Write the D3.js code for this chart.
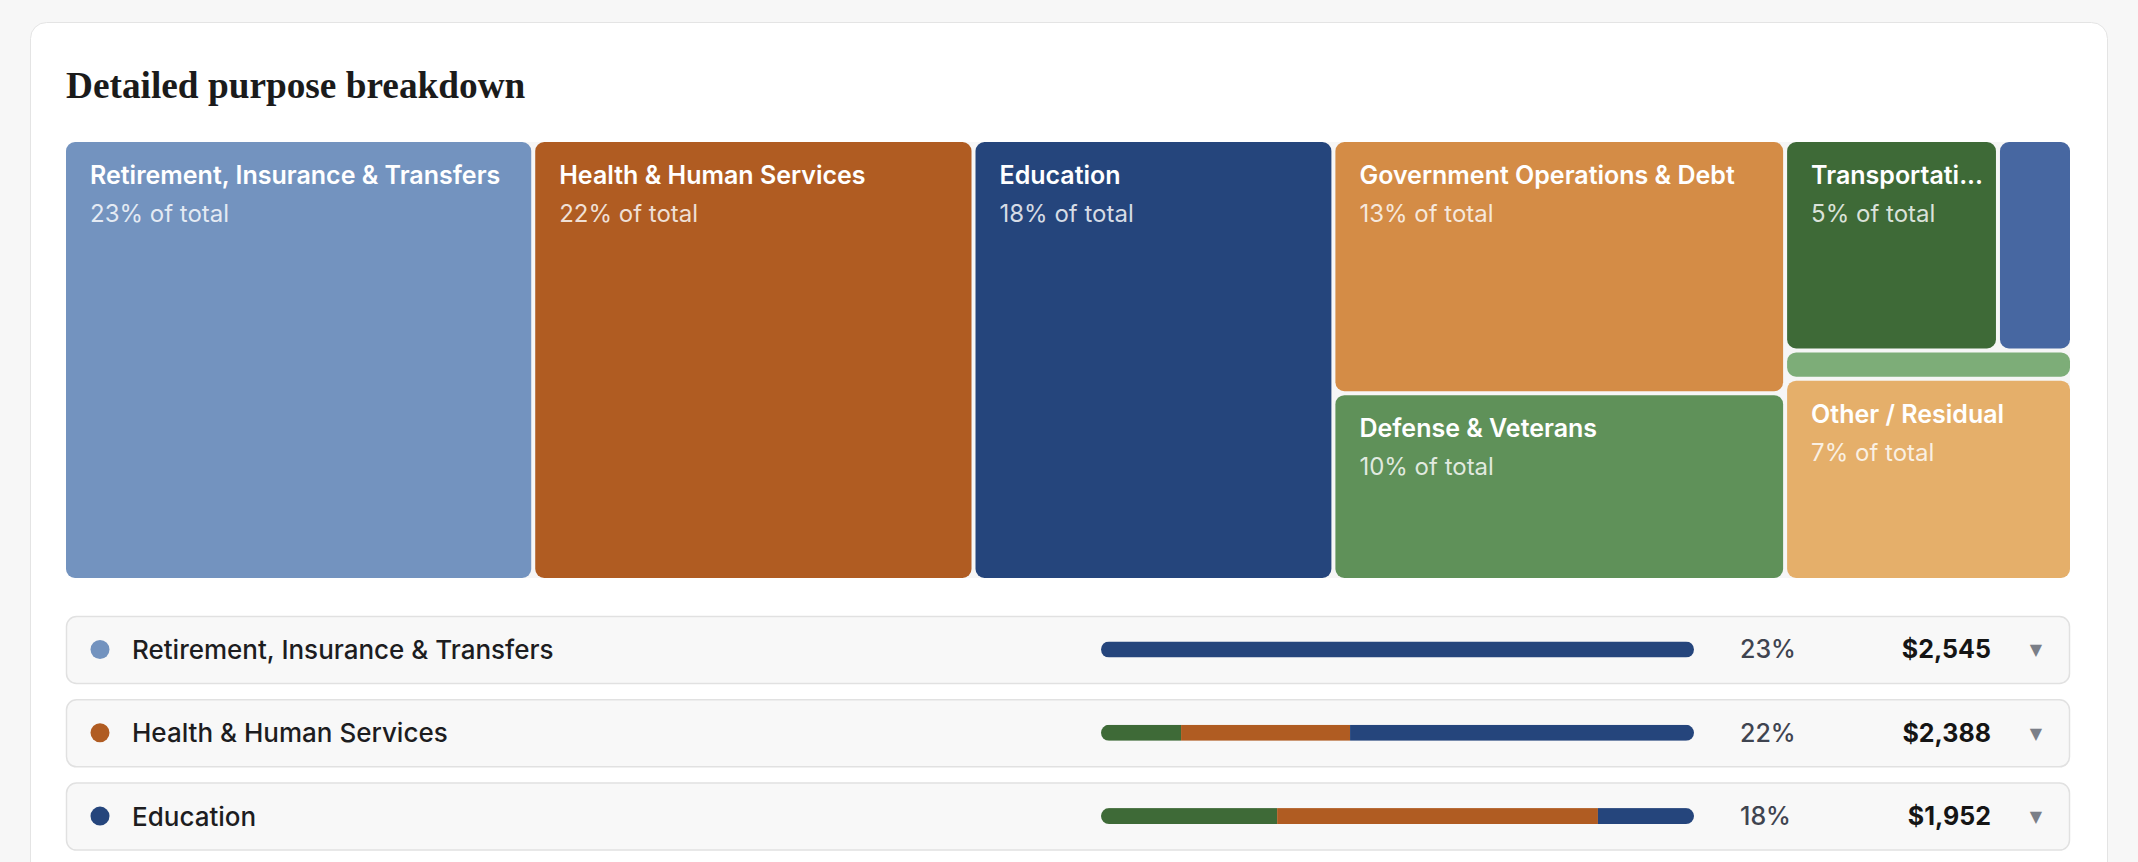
<!DOCTYPE html>
<html>
<head>
<meta charset="utf-8">
<script src="https://cdn.jsdelivr.net/npm/d3@7"></script>
<style>
  body { margin: 0; background: #f7f7f7; }
  svg { display: block; }
</style>
</head>
<body>
<div id="chart"></div>
<script>
// Purpose categories, in the order they are tiled ("Other" kept last)
const categories = ["Retirement, Insurance & Transfers", "Health & Human Services", "Education",
    "Government Operations & Debt", "Defense & Veterans", "Transportation", "Public Safety",
    "Parks & Environment", "Other / Residual"];
const amounts = [2545, 2388, 1952, 1410, 1040, 552, 192, 100, 712];
const colors = ["#7393bf", "#b05c22", "#25457c", "#d48c46", "#5f9159", "#3e6a37", "#4767a1", "#7dad78", "#e5af6a"];

// Rows under the treemap: split of each purpose by source
const sourceKeys = ["Local", "State", "Federal"];
const sourceColors = ["#3e6a37", "#b05c22", "#25457c"];
const rowShares = [
    [0, 0, 1],
    [0.135, 0.285, 0.58],
    [0.297, 0.541, 0.162]
];

const width = 2138, height = 862;
const total = d3.sum(amounts);
const pct = v => Math.round(v / total * 100) + "%";
const sans = "Inter, 'Noto Sans', sans-serif";

const svg = d3.select("#chart").append("svg")
    .attr("width", width)
    .attr("height", height);

// White card
svg.append("rect")
    .attr("x", 30.5).attr("y", 22.5)
    .attr("width", 2077).attr("height", 900)
    .attr("rx", 16)
    .attr("fill", "#fff")
    .attr("stroke", "#e4e4e4");

// Title
svg.append("text")
    .attr("x", 66)
    .attr("y", 98)
    .style("font-family", "'Liberation Serif', serif")
    .style("font-weight", "bold")
    .style("font-size", "37.3px")
    .attr("fill", "#1b1b1b")
    .text("Detailed purpose breakdown");

// ---- Treemap ----
const tm = { x: 66, y: 142, w: 2004, h: 436 };

const root = d3.hierarchy({ children: categories.map((c, i) => ({ name: c, value: amounts[i], color: colors[i] })) })
    .sum(d => d.value);

d3.treemap()
    .size([tm.w, tm.h])
    .paddingInner(4)(root);

const tmG = svg.append("g").attr("transform", "translate(" + tm.x + "," + tm.y + ")");

tmG.append("rect")
    .attr("width", tm.w).attr("height", tm.h)
    .attr("rx", 10)
    .attr("fill", "#f6f6f6");

const tile = tmG.selectAll(".tile")
    .data(root.leaves())
    .enter().append("g")
    .attr("class", "tile")
    .attr("transform", d => "translate(" + d.x0 + "," + d.y0 + ")");

tile.append("rect")
    .attr("width", d => d.x1 - d.x0)
    .attr("height", d => d.y1 - d.y0)
    .attr("rx", 9)
    .attr("fill", d => d.data.color);

// Only label tiles that are big enough
const labelled = tile.filter(d => (d.x1 - d.x0) > 120 && (d.y1 - d.y0) > 90);

labelled.append("text")
    .attr("x", 24).attr("y", 42)
    .style("font-family", sans)
    .style("font-weight", 600)
    .style("font-size", "25px")
    .attr("fill", "#fff")
    .text(d => d.data.name)
    .each(function (d) {
        // Trim long names with an ellipsis
        const maxW = (d.x1 - d.x0) - 24 - 8;
        const el = d3.select(this);
        let s = d.data.name;
        if (this.getComputedTextLength() <= maxW) return;
        while (s.length > 1) {
            s = s.slice(0, -1);
            el.text(s + "...");
            if (this.getComputedTextLength() <= maxW) break;
        }
    });

labelled.append("text")
    .attr("x", 24).attr("y", 80)
    .style("font-family", sans)
    .style("font-size", "24px")
    .attr("fill", "rgba(255,255,255,0.82)")
    .text(d => pct(d.data.value) + " of total");

// ---- Breakdown rows ----
const rows = rowShares.map((s, i) => {
    const o = { name: categories[i], value: amounts[i], color: colors[i] };
    sourceKeys.forEach((k, j) => o[k] = s[j]);
    return o;
});

const y = d3.scaleBand()
    .domain(d3.range(rows.length))
    .range([616, 849.6])
    .paddingInner(0.196);

const bx = d3.scaleLinear().domain([0, 1]).range([1101, 1694]);
const barH = 16;

const stacked = d3.stack().keys(sourceKeys)(rows);

const defs = svg.append("defs");

const row = svg.selectAll(".row")
    .data(rows)
    .enter().append("g")
    .attr("class", "row")
    .attr("transform", (d, i) => "translate(0," + y(i) + ")");

row.append("rect")
    .attr("x", 66.5).attr("y", 0.5)
    .attr("width", 2003).attr("height", y.bandwidth())
    .attr("rx", 10)
    .attr("fill", "#f8f8f8")
    .attr("stroke", "#e1e1e1")
    .attr("stroke-width", 1.5);

const mid = y.bandwidth() / 2;

row.append("circle")
    .attr("cx", 100).attr("cy", mid)
    .attr("r", 9.5)
    .attr("fill", d => d.color);

row.append("text")
    .attr("x", 132).attr("y", mid + 9.5)
    .style("font-family", sans)
    .style("font-weight", 500)
    .style("font-size", "26px")
    .attr("fill", "#1d1d1f")
    .text(d => d.name);

// Rounded clip for each mini stacked bar
rows.forEach((d, i) => {
    defs.append("clipPath").attr("id", "barclip" + i)
        .append("rect")
        .attr("x", bx(0)).attr("y", mid - barH / 2)
        .attr("width", bx(1) - bx(0)).attr("height", barH)
        .attr("rx", barH / 2);
});

const bars = row.append("g")
    .attr("clip-path", (d, i) => "url(#barclip" + i + ")");

bars.selectAll("rect")
    .data((d, i) => stacked.map((s, j) => ({ v: s[i], color: sourceColors[j] })))
    .enter().append("rect")
    .attr("x", d => bx(d.v[0]))
    .attr("y", mid - barH / 2)
    .attr("width", d => bx(d.v[1]) - bx(d.v[0]))
    .attr("height", barH)
    .attr("fill", d => d.color);

row.append("text")
    .attr("x", 1740).attr("y", mid + 9)
    .style("font-family", sans)
    .style("font-weight", 500)
    .style("font-size", "25px")
    .attr("fill", "#3f4450")
    .text(d => pct(d.value));

row.append("text")
    .attr("x", 1991).attr("y", mid + 9)
    .attr("text-anchor", "end")
    .style("font-family", sans)
    .style("font-weight", 700)
    .style("font-size", "25px")
    .attr("fill", "#151515")
    .text(d => d3.format("$,")(d.value));

row.append("text")
    .attr("x", 2036).attr("y", mid + 6)
    .attr("text-anchor", "middle")
    .style("font-family", "'DejaVu Sans', sans-serif")
    .style("font-size", "16px")
    .attr("fill", "#7b7f88")
    .text("▼");
</script>
</body>
</html>
